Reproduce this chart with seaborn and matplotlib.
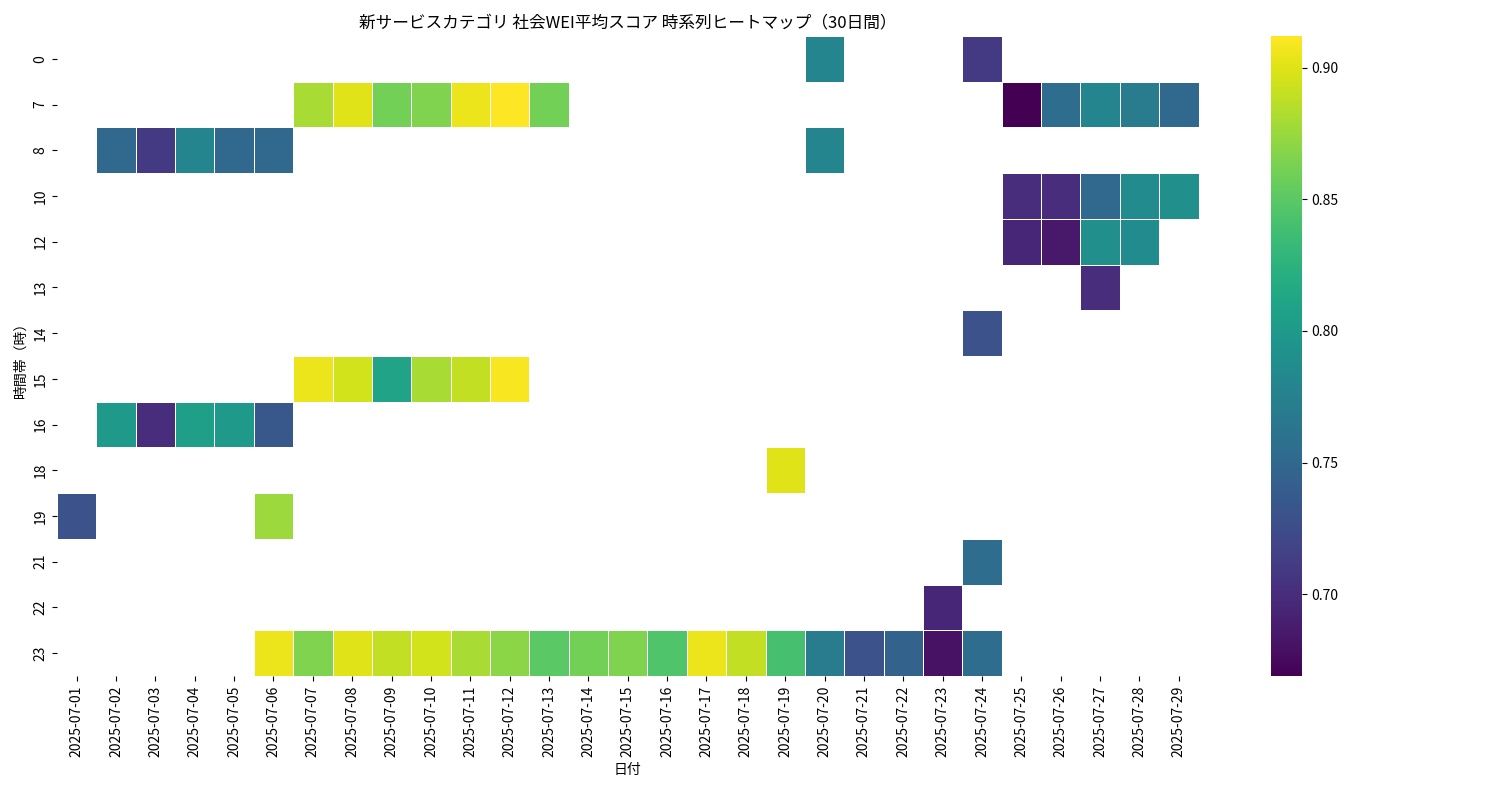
import numpy as np
import pandas as pd
import matplotlib
matplotlib.use("Agg")
import matplotlib.pyplot as plt
import seaborn as sns

plt.rcParams["font.family"] = "Noto Sans CJK JP"

dates = [f"2025-07-{d:02d}" for d in range(1, 30)]
hours = [0, 7, 8, 10, 12, 13, 14, 15, 16, 18, 19, 21, 22, 23]

# (hour, day-of-month, value)
cells_hour = [0, 0,
              7, 7, 7, 7, 7, 7, 7, 7, 7, 7, 7, 7,
              8, 8, 8, 8, 8, 8,
              10, 10, 10, 10, 10,
              12, 12, 12, 12,
              13, 14,
              15, 15, 15, 15, 15, 15,
              16, 16, 16, 16, 16,
              18, 19, 19, 21, 22,
              23, 23, 23, 23, 23, 23, 23, 23, 23, 23, 23, 23, 23, 23, 23, 23, 23, 23, 23]
cells_day = [20, 24,
             7, 8, 9, 10, 11, 12, 13, 25, 26, 27, 28, 29,
             2, 3, 4, 5, 6, 20,
             25, 26, 27, 28, 29,
             25, 26, 27, 28,
             27, 24,
             7, 8, 9, 10, 11, 12,
             2, 3, 4, 5, 6,
             19, 1, 6, 24, 23,
             6, 7, 8, 9, 10, 11, 12, 13, 14, 15, 16, 17, 18, 19, 20, 21, 22, 23, 24]
cells_val = [0.78, 0.71,
             0.88, 0.90, 0.86, 0.865, 0.905, 0.912, 0.86, 0.669, 0.755, 0.78, 0.77, 0.75,
             0.75, 0.71, 0.78, 0.75, 0.75, 0.78,
             0.70, 0.70, 0.75, 0.785, 0.79,
             0.695, 0.685, 0.79, 0.785,
             0.70, 0.73,
             0.905, 0.895, 0.81, 0.88, 0.89, 0.91,
             0.80, 0.70, 0.805, 0.80, 0.735,
             0.90, 0.73, 0.875, 0.755, 0.695,
             0.905, 0.865, 0.90, 0.89, 0.895, 0.88, 0.87, 0.85, 0.86, 0.865, 0.845,
             0.905, 0.89, 0.84, 0.77, 0.73, 0.745, 0.68, 0.755]

mat = pd.DataFrame(np.nan, index=hours, columns=dates)
for h, d, v in zip(cells_hour, cells_day, cells_val):
    mat.loc[h, f"2025-07-{d:02d}"] = v

fig = plt.figure(figsize=(15, 8), dpi=100)
ax = fig.add_axes([0.038, 0.155, 0.761, 0.8])
cax = fig.add_axes([0.847, 0.155, 0.021, 0.8])
sns.heatmap(mat, ax=ax, cbar_ax=cax, cmap="viridis", linewidths=0.5, linecolor="white")
ax.set_title("新サービスカテゴリ 社会WEI平均スコア 時系列ヒートマップ（30日間）", fontsize=12)
ax.set_xlabel("日付", fontsize=10)
ax.set_ylabel("時間帯（時）", fontsize=10)
ax.set_xticklabels(dates, rotation=90, fontsize=10)
ax.set_yticklabels(hours, rotation=90, fontsize=10)
cax.tick_params(labelsize=10)
fig.savefig("out.png")
